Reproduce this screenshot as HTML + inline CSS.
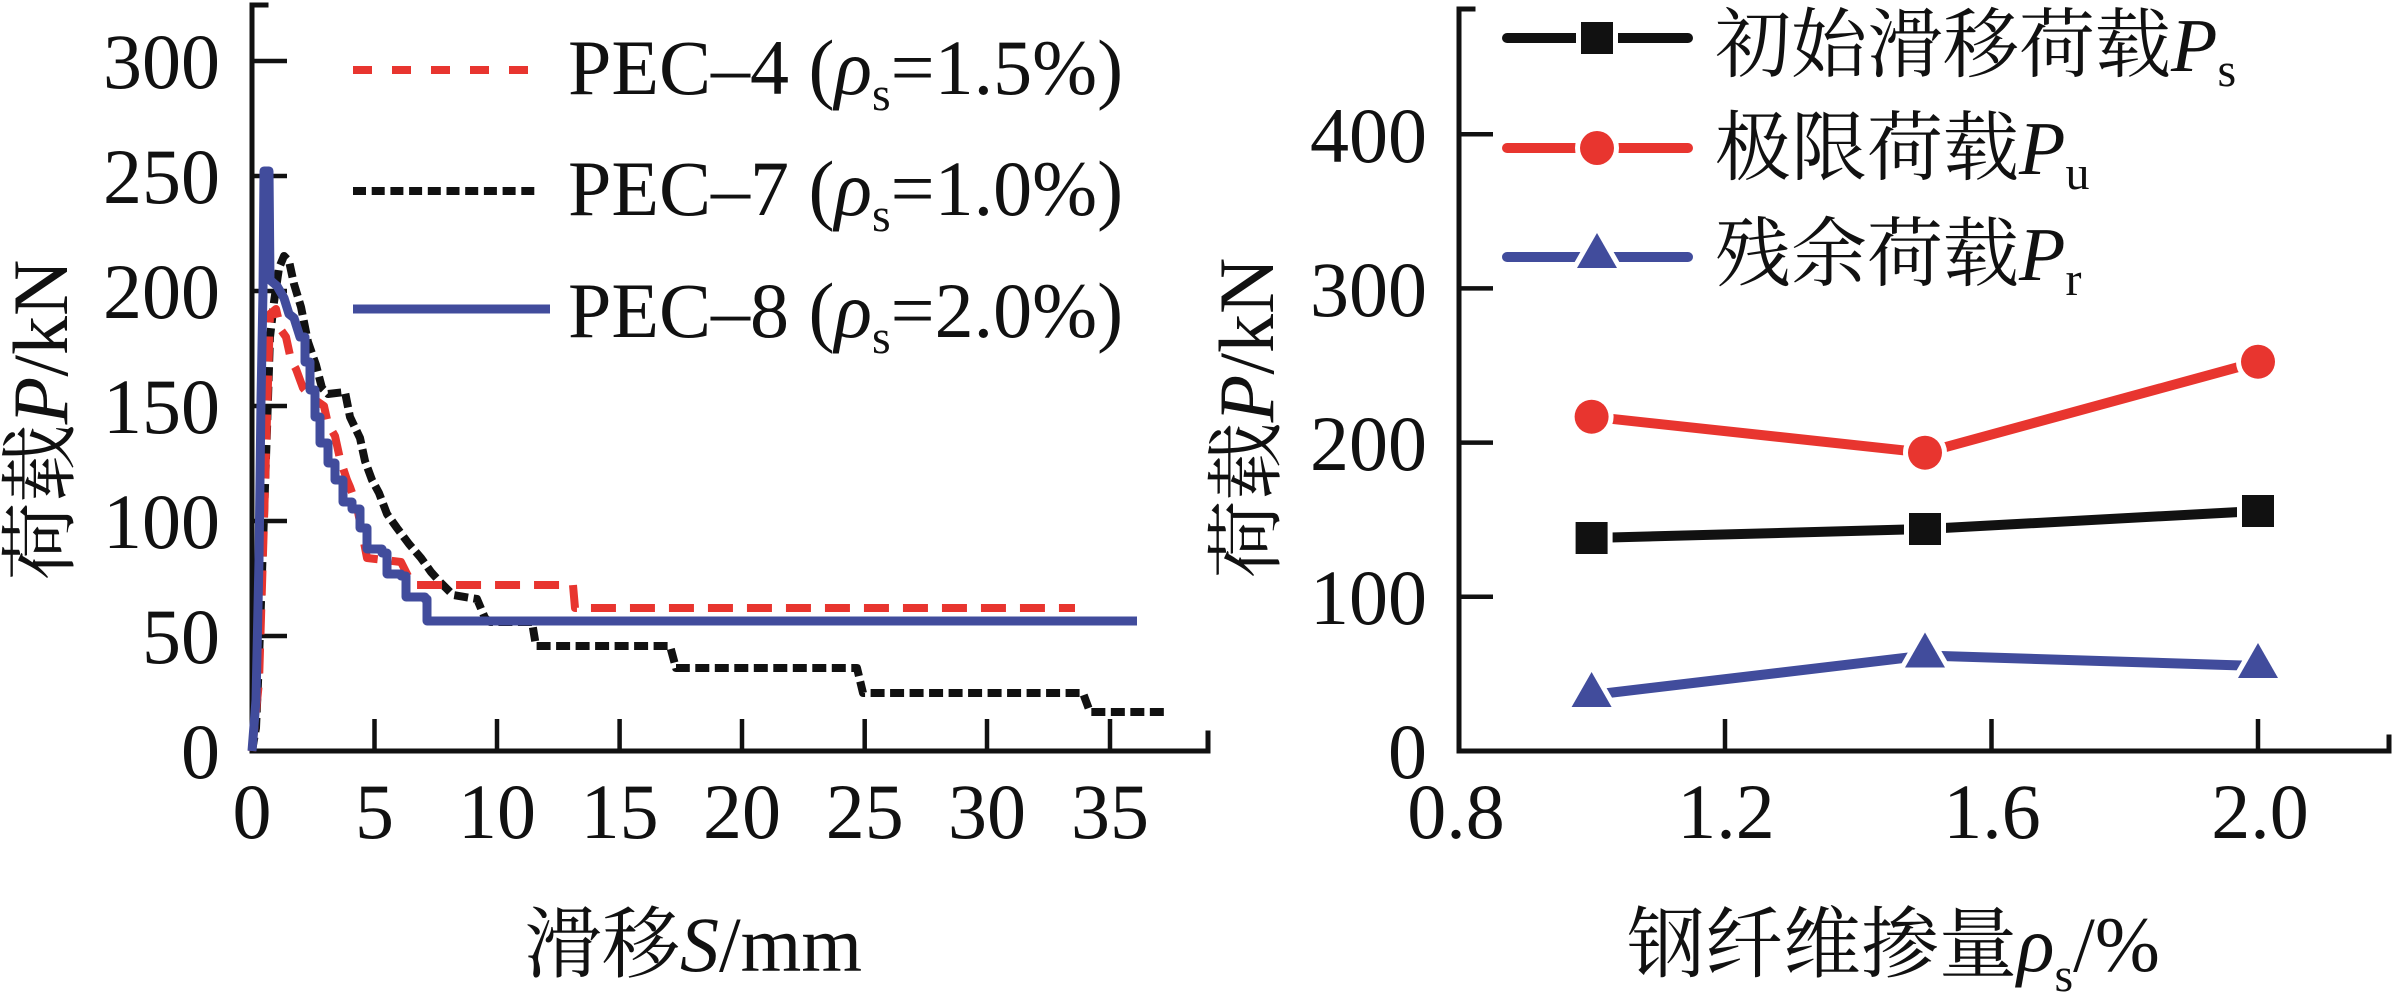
<!DOCTYPE html>
<html>
<head>
<meta charset="utf-8">
<style>
  html,body{margin:0;padding:0;background:#fff;}
  svg{display:block;}
  text{font-family:"Liberation Serif","Noto Serif CJK SC",serif;fill:#111;}
</style>
</head>
<body>
<svg width="2392" height="994" viewBox="0 0 2392 994" xmlns="http://www.w3.org/2000/svg">
  <rect x="0" y="0" width="2392" height="994" fill="#fff"/>

  <!-- ================= LEFT CHART ================= -->
  <!-- axes -->
  <g stroke="#111" stroke-width="5" fill="none" stroke-linecap="square">
    <path d="M266,5 H252 V751 H1208 V733"/>
  </g>
  <!-- y ticks -->
  <g stroke="#111" stroke-width="4.5">
    <line x1="252" y1="61" x2="287" y2="61"/>
    <line x1="252" y1="176" x2="287" y2="176"/>
    <line x1="252" y1="291" x2="287" y2="291"/>
    <line x1="252" y1="406" x2="287" y2="406"/>
    <line x1="252" y1="521" x2="287" y2="521"/>
    <line x1="252" y1="636" x2="287" y2="636"/>
  </g>
  <!-- x ticks -->
  <g stroke="#111" stroke-width="4.5">
    <line x1="374.5" y1="751" x2="374.5" y2="719"/>
    <line x1="497" y1="751" x2="497" y2="719"/>
    <line x1="619.6" y1="751" x2="619.6" y2="719"/>
    <line x1="742" y1="751" x2="742" y2="719"/>
    <line x1="864.7" y1="751" x2="864.7" y2="719"/>
    <line x1="987" y1="751" x2="987" y2="719"/>
    <line x1="1110" y1="751" x2="1110" y2="719"/>
  </g>
  <!-- y tick labels -->
  <g font-size="78" text-anchor="end">
    <text x="220" y="88">300</text>
    <text x="220" y="203">250</text>
    <text x="220" y="318">200</text>
    <text x="220" y="433">150</text>
    <text x="220" y="548">100</text>
    <text x="220" y="663">50</text>
    <text x="220" y="778">0</text>
  </g>
  <!-- x tick labels -->
  <g font-size="78" text-anchor="middle">
    <text x="252" y="838">0</text>
    <text x="374.5" y="838">5</text>
    <text x="497" y="838">10</text>
    <text x="619.6" y="838">15</text>
    <text x="742" y="838">20</text>
    <text x="864.7" y="838">25</text>
    <text x="987" y="838">30</text>
    <text x="1110" y="838">35</text>
  </g>
  <!-- axis titles -->
  <text font-size="78" text-anchor="middle" transform="translate(67,420) rotate(-90)">荷载<tspan font-style="italic">P</tspan>/kN</text>
  <text font-size="78" x="524" y="971">滑移<tspan font-style="italic">S</tspan>/mm</text>

  <!-- curves -->
  <path fill="none" stroke="#111" stroke-width="8" stroke-dasharray="14 5.5" stroke-linejoin="round"
        d="M252,751 L256,728 L259,659 L263,544 L267,429 L270,337 L274,302 L279,268 L284,256 L289,261 L294,284 L301,307 L308,342 L316,365 L322,388 L328,394 L345,392 L350,417 L360,438 L365,461 L372,480 L379,493 L387,514 L397,528 L409,544 L421,558 L431,572 L441,583 L453,595 L477,599 L485,618 L490,622 L532,622 L536,646 L670,646 L676,668 L857,668 L863,693 L1083,693 L1090,712 L1169,712"/>
  <path fill="none" stroke="#E8352F" stroke-width="8" stroke-dasharray="25 14" stroke-linejoin="round"
        d="M252,751 L259,682 L264,521 L268,383 L270,314 L276,309 L281,330 L286,337 L291,360 L296,369 L303,388 L311,397 L324,406 L328,424 L335,436 L340,459 L347,480 L350,487 L357,507 L362,532 L367,558 L401,562 L409,578 L414,585 L573,585 L575,608 L1075,608"/>
  <path fill="none" stroke="#414C9C" stroke-width="9" stroke-linejoin="round"
        d="M252,751 L256,700 L259,560 L261,400 L263,291 L264,171 L269,171 L270,280 L277,286 L284,298 L289,314 L294,318 L300,337 H305 V362 H310 V390 H315 V417 H320 V443 H328 V463 H335 V480 H343 V502 H352 V509 H360 V528 H367 V549 H382 V553 H387 V574 H401 V576 H406 V597 H425 V599 H427 V621 H1137"/>

  <!-- left legend -->
  <line x1="353" y1="70" x2="535" y2="70" stroke="#E8352F" stroke-width="8" stroke-dasharray="19 20"/>
  <line x1="353" y1="191" x2="537" y2="191" stroke="#111" stroke-width="8" stroke-dasharray="13 5.7"/>
  <line x1="353" y1="309" x2="550" y2="309" stroke="#414C9C" stroke-width="9"/>
  <g font-size="78">
    <text x="568" y="94">PEC–4 (<tspan font-style="italic">ρ</tspan><tspan font-size="48" dy="16">s</tspan><tspan dy="-16">=1.5%)</tspan></text>
    <text x="568" y="215">PEC–7 (<tspan font-style="italic">ρ</tspan><tspan font-size="48" dy="16">s</tspan><tspan dy="-16">=1.0%)</tspan></text>
    <text x="568" y="337">PEC–8 (<tspan font-style="italic">ρ</tspan><tspan font-size="48" dy="16">s</tspan><tspan dy="-16">=2.0%)</tspan></text>
  </g>

  <!-- ================= RIGHT CHART ================= -->
  <g stroke="#111" stroke-width="5" fill="none" stroke-linecap="square">
    <path d="M1473,9 H1459 V751 H2389 V737"/>
  </g>
  <g stroke="#111" stroke-width="4.5">
    <line x1="1459" y1="134.2" x2="1493" y2="134.2"/>
    <line x1="1459" y1="288.4" x2="1493" y2="288.4"/>
    <line x1="1459" y1="442.6" x2="1493" y2="442.6"/>
    <line x1="1459" y1="596.8" x2="1493" y2="596.8"/>
    <line x1="1725" y1="751" x2="1725" y2="719"/>
    <line x1="1991.5" y1="751" x2="1991.5" y2="719"/>
    <line x1="2258" y1="751" x2="2258" y2="719"/>
  </g>
  <g font-size="78" text-anchor="end">
    <text x="1427" y="162">400</text>
    <text x="1427" y="316">300</text>
    <text x="1427" y="470">200</text>
    <text x="1427" y="624">100</text>
    <text x="1427" y="778">0</text>
  </g>
  <g font-size="78" text-anchor="middle">
    <text x="1456" y="838">0.8</text>
    <text x="1726" y="838">1.2</text>
    <text x="1992" y="838">1.6</text>
    <text x="2260" y="838">2.0</text>
  </g>
  <text font-size="78" text-anchor="middle" transform="translate(1273,418) rotate(-90)">荷载<tspan font-style="italic">P</tspan>/kN</text>
  <text font-size="78" x="1627" y="971">钢纤维掺量<tspan font-style="italic">ρ</tspan><tspan font-size="48" dy="20">s</tspan><tspan dy="-20">/%</tspan></text>

  <!-- series lines -->
  <g fill="none" stroke-width="10" stroke-linejoin="round">
    <path d="M1591.6,538 L1925,529 L2258,511" stroke="#111"/>
    <path d="M1591.6,416.7 L1925,452.7 L2258,361.7" stroke="#E8352F"/>
    <path d="M1591.6,695 L1925,655.5 L2258,666" stroke="#414C9C"/>
  </g>
  <!-- markers (white halo via paint-order) -->
  <g stroke="#fff" stroke-width="10" paint-order="stroke">
    <rect x="1575.6" y="522" width="32" height="32" fill="#111"/>
    <rect x="1909" y="513" width="32" height="32" fill="#111"/>
    <rect x="2242" y="495" width="32" height="32" fill="#111"/>
    <circle cx="1591.6" cy="416.7" r="17" fill="#E8352F"/>
    <circle cx="1925" cy="452.7" r="17" fill="#E8352F"/>
    <circle cx="2258" cy="361.7" r="17" fill="#E8352F"/>
    <polygon points="1591.6,672 1571.6,707 1611.6,707" fill="#414C9C"/>
    <polygon points="1925,632.5 1905,667.5 1945,667.5" fill="#414C9C"/>
    <polygon points="2258,643 2238,678 2278,678" fill="#414C9C"/>
  </g>

  <!-- right legend -->
  <g fill="none" stroke-width="10" stroke-linecap="round">
    <line x1="1507" y1="38" x2="1688" y2="38" stroke="#111"/>
    <line x1="1507" y1="148" x2="1688" y2="148" stroke="#E8352F"/>
    <line x1="1507" y1="257" x2="1688" y2="257" stroke="#414C9C"/>
  </g>
  <g stroke="#fff" stroke-width="10" paint-order="stroke">
    <rect x="1581" y="22" width="32" height="32" fill="#111"/>
    <circle cx="1597" cy="148" r="17" fill="#E8352F"/>
    <polygon points="1597,233 1577,268 1617,268" fill="#414C9C"/>
  </g>
  <g font-size="76">
    <text x="1715" y="71">初始滑移荷载<tspan font-style="italic">P</tspan><tspan font-size="48" dy="15">s</tspan></text>
    <text x="1715" y="174">极限荷载<tspan font-style="italic">P</tspan><tspan font-size="48" dy="15">u</tspan></text>
    <text x="1715" y="280">残余荷载<tspan font-style="italic">P</tspan><tspan font-size="48" dy="15">r</tspan></text>
  </g>
</svg>
</body>
</html>
